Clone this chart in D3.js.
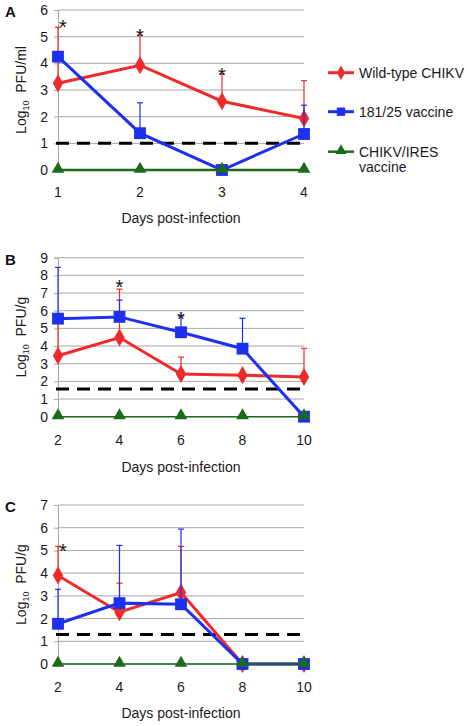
<!DOCTYPE html>
<html><head><meta charset="utf-8">
<script src="https://cdn.jsdelivr.net/npm/d3@7"></script>
<style>body{margin:0;background:#fff}svg{display:block;font-family:Arial,"Liberation Sans",Helvetica,sans-serif}</style>
</head><body><svg id="c" width="467" height="726"></svg>
<script>
// ---------- DATA ----------
const seriesNames = ["Wild-type CHIKV", "181/25 vaccine", "CHIKV/IRES vaccine"];

// Panel A (serum, Log10 PFU/ml)
const daysA = [1, 2, 3, 4];
const wildA = [3.25, 3.93, 2.58, 1.93];
const wildErrA = [5.35, 5.05, 3.6, 3.35];
const vacA = [4.25, 1.38, 0, 1.35];
const vacErrA = [null, 2.52, null, 2.43];
const iresA = [0, 0, 0, 0];
const limitA = 1.0;
const yTicksA = [0, 1, 2, 3, 4, 5, 6];
const starDaysA = [1, 2, 3];
const starValsA = [5.5, 5.18, 3.71];

// Panel B (Log10 PFU/g)
const daysB = [2, 4, 6, 8, 10];
const wildB = [3.45, 4.48, 2.42, 2.35, 2.25];
const wildErrB = [5.6, 7.22, 3.37, null, 3.87];
const vacB = [5.55, 5.65, 4.78, 3.85, 0];
const vacErrB = [8.45, 6.6, 5.7, 5.57, null];
const iresB = [0, 0, 0, 0, 0];
const limitB = 1.57;
const yTicksB = [0, 1, 2, 3, 4, 5, 6, 7, 8, 9];
const starDaysB = [4, 6];
const starValsB = [7.57, 5.75];

// Panel C (Log10 PFU/g)
const daysC = [2, 4, 6, 8, 10];
const wildC = [3.9, 2.28, 3.15, 0, 0];
const wildErrC = [5.18, 3.56, 5.18, null, null];
const vacC = [1.77, 2.68, 2.63, 0, 0];
const vacErrC = [3.29, 5.22, 5.94, null, null];
const iresC = [0, 0, 0, 0, 0];
const limitC = 1.3;
const yTicksC = [0, 1, 2, 3, 4, 5, 6, 7];
const starDaysC = [2];
const starValsC = [5.15];

// ---------- DRAW ----------
const colors = ["#ee2b2b", "#1c30ee", "#1b6b1b"];
const svg = d3.select("#c");

function panel(o) {
  const x = d3.scaleLinear().domain(d3.extent(o.days)).range([58, 304]);
  const y = d3.scaleLinear().domain([0, d3.max(o.yTicks)]).range([o.bottom, o.top]);
  const g = svg.append("g");

  // gridlines + y ticks
  g.append("g").attr("transform", "translate(58,0)")
    .call(d3.axisLeft(y).tickValues(o.yTicks).tickSize(4).tickFormat(""))
    .call(s => s.select(".domain").attr("stroke", "#a6a6a6"))
    .call(s => s.selectAll(".tick line").attr("stroke", "#a6a6a6"));
  g.selectAll("line.grid").data(o.yTicks).join("line")
    .attr("x1", 58).attr("x2", 304)
    .attr("y1", d => y(d)).attr("y2", d => y(d))
    .attr("stroke", "#a6a6a6").attr("stroke-width", 1);
  g.selectAll("text.yt").data(o.yTicks).join("text")
    .attr("x", 48).attr("y", d => y(d)).attr("dy", "0.36em")
    .attr("text-anchor", "end").attr("font-size", 14).attr("fill", "#1a1a1a").text(d => d);

  // x tick labels
  g.selectAll("text.xt").data(o.days).join("text")
    .attr("x", d => x(d)).attr("y", o.xLabY).attr("dy", "0.36em")
    .attr("text-anchor", "middle").attr("font-size", 14).attr("fill", "#1a1a1a").text(d => d);
  g.append("text").attr("x", 181).attr("y", o.titleY).attr("dy", "0.36em")
    .attr("text-anchor", "middle").attr("font-size", 14).attr("fill", "#1a1a1a").text("Days post-infection");

  // y label
  const yl = g.append("text").attr("transform", `translate(26,${(o.top + o.bottom) / 2}) rotate(-90)`)
    .attr("text-anchor", "middle").attr("font-size", 14).attr("fill", "#1a1a1a");
  yl.append("tspan").text("Log");
  yl.append("tspan").attr("font-size", 9).attr("dy", 3).text("10");
  yl.append("tspan").attr("dy", -3).text("\u00a0 " + o.unit);

  // panel letter
  g.append("text").attr("x", 5).attr("y", o.top + 2).attr("dy", "0.36em")
    .attr("font-weight", "bold").attr("font-size", 15).attr("fill", "#111").text(o.letter);

  // detection limit
  g.append("line").attr("x1", 56).attr("x2", 302)
    .attr("y1", y(o.limit)).attr("y2", y(o.limit))
    .attr("stroke", "#000").attr("stroke-width", 3).attr("stroke-dasharray", "13,8");

  const series = [[o.wild, o.wildErr], [o.vac, o.vacErr], [o.ires, null]];
  series.forEach(([vals, errs], i) => {
    const c = colors[i];
    const pts = o.days.map((d, k) => ({ d, v: vals[k], e: errs ? errs[k] : null }));
    const eg = g.append("g");
    pts.filter(p => p.e != null).forEach(p => {
      eg.append("line").attr("x1", x(p.d)).attr("x2", x(p.d)).attr("y1", y(p.v)).attr("y2", y(p.e))
        .attr("stroke", c).attr("stroke-width", 1.2);
      eg.append("line").attr("x1", x(p.d) - 3).attr("x2", x(p.d) + 3).attr("y1", y(p.e)).attr("y2", y(p.e))
        .attr("stroke", c).attr("stroke-width", 1.2);
    });
    g.append("path").datum(pts)
      .attr("d", d3.line().x(p => x(p.d)).y(p => y(p.v)))
      .attr("fill", "none").attr("stroke", c).attr("stroke-width", i === 2 ? o.greenW : 3);
    const sym = [d3.symbolDiamond, d3.symbolSquare, d3.symbolTriangle][i];
    const size = [95, 140, 70][i];
    g.selectAll(null).data(pts).join("path")
      .attr("transform", p => `translate(${x(p.d)},${y(p.v) - (i === 2 ? 1 : 0)})`)
      .attr("d", d3.symbol(sym, size)).attr("fill", c);
  });

  // significance stars
  g.selectAll("text.star").data(o.starDays).join("text")
    .attr("x", (d) => x(d) + (d === o.days[0] ? 5 : 0))
    .attr("y", (d, k) => y(o.starVals[k]) + 11)
    .attr("text-anchor", "middle").attr("font-size", 20).attr("fill", "#111").text("*");
}

panel({ letter: "A", days: daysA, wild: wildA, wildErr: wildErrA, vac: vacA, vacErr: vacErrA, ires: iresA,
  limit: limitA, yTicks: yTicksA, starDays: starDaysA, starVals: starValsA, greenW: 2.4,
  top: 10, bottom: 170, xLabY: 192, titleY: 218, unit: "PFU/ml" });
panel({ letter: "B", days: daysB, wild: wildB, wildErr: wildErrB, vac: vacB, vacErr: vacErrB, ires: iresB,
  limit: limitB, yTicks: yTicksB, starDays: starDaysB, starVals: starValsB, greenW: 1.5,
  top: 257.7, bottom: 416.7, xLabY: 440, titleY: 467, unit: "PFU/g" });
panel({ letter: "C", days: daysC, wild: wildC, wildErr: wildErrC, vac: vacC, vacErr: vacErrC, ires: iresC,
  limit: limitC, yTicks: yTicksC, starDays: starDaysC, starVals: starValsC, greenW: 1.5,
  top: 505, bottom: 664, xLabY: 687, titleY: 713, unit: "PFU/g" });

// legend
const legY = [72.7, 111.7, 151.7];
const lg = svg.append("g");
seriesNames.forEach((n, i) => {
  const c = colors[i];
  lg.append("line").attr("x1", 328).attr("x2", 354).attr("y1", legY[i]).attr("y2", legY[i])
    .attr("stroke", c).attr("stroke-width", i === 2 ? 2.5 : 3);
  const sym = [d3.symbolDiamond, d3.symbolSquare, d3.symbolTriangle][i];
  lg.append("path").attr("transform", `translate(341,${legY[i] - (i === 2 ? 1 : 0)})`)
    .attr("d", d3.symbol(sym, [60, 70, 55][i])).attr("fill", c);
  const t = lg.append("text").attr("x", 359).attr("y", legY[i]).attr("dy", "0.36em")
    .attr("font-size", 14).attr("fill", "#1a1a1a");
  if (i === 2) {
    t.append("tspan").text("CHIKV/IRES");
    t.append("tspan").attr("x", 359).attr("dy", 15).text("vaccine");
  } else t.text(n);
});
</script></body></html>
